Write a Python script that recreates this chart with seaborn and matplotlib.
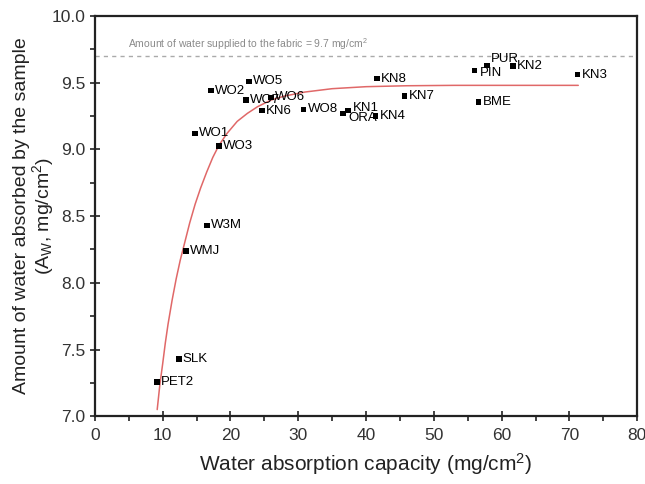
import matplotlib
matplotlib.use("Agg")
import matplotlib.pyplot as plt
import seaborn as sns
import pandas as pd
from matplotlib.ticker import MultipleLocator

# ---- data ----
labels = ["PET2", "SLK", "WMJ", "W3M", "WO1", "WO3", "WO2", "WO5", "WO7", "WO6",
          "KN6", "WO8", "KN1", "ORA", "KN4", "KN8", "KN7", "PIN", "PUR", "KN2",
          "BME", "KN3"]
capacity = [9.14, 12.39, 13.42, 16.52, 14.75, 18.29, 17.1, 22.7, 22.27, 25.96,
            24.63, 30.8, 37.3, 36.6, 41.4, 41.6, 45.7, 56.0, 57.8, 61.65,
            56.6, 71.2]
absorbed = [7.255, 7.43, 8.24, 8.43, 9.12, 9.025, 9.44, 9.51, 9.37, 9.39,
            9.29, 9.30, 9.29, 9.27, 9.25, 9.53, 9.40, 9.59, 9.63, 9.625,
            9.355, 9.56]

# fitted curve
curve_x = [9.2, 9.6, 10.0, 10.4, 10.8, 11.4, 12.0, 12.6, 13.2, 14.0, 14.8, 15.6,
           16.5, 17.4, 18.3, 19.5, 21.0, 22.5, 24.0, 26.0, 28.0, 31.0, 35.0,
           40.0, 46.0, 53.0, 62.0, 71.3]
curve_y = [7.05, 7.24, 7.39, 7.55, 7.69, 7.87, 8.03, 8.17, 8.29, 8.45, 8.59, 8.71,
           8.83, 8.94, 9.03, 9.12, 9.21, 9.27, 9.32, 9.37, 9.40, 9.43, 9.455,
           9.47, 9.477, 9.48, 9.48, 9.48]

supplied = 9.7
x_ticks = [0, 10, 20, 30, 40, 50, 60, 70, 80]
y_ticks = [7.0, 7.5, 8.0, 8.5, 9.0, 9.5, 10.0]

# label offsets in pixels (default: right of marker)
label_offsets = {"PUR": (4, 6), "PIN": (5, -2), "KN1": (5, 2.5), "ORA": (5, -5)}

sns.set_style("ticks")
plt.rcParams["font.family"] = ["Liberation Sans", "DejaVu Sans"]
plt.rcParams["mathtext.default"] = "regular"

fig = plt.figure(figsize=(6.45, 4.84), dpi=100)
ax = fig.add_axes([0.147, 0.140, 0.841, 0.827])

df = pd.DataFrame({"x": capacity, "y": absorbed, "label": labels})
cdf = pd.DataFrame({"x": curve_x, "y": curve_y})

ax.axhline(supplied, color="#aaaaaa", lw=1.0, ls=(0, (3, 3)), zorder=1)
ax.text(4.9, supplied + 0.03, "Amount of water supplied to the fabric = 9.7 mg/cm$^2$",
        color="#8a8a8a", fontsize=7.5, va="bottom", ha="left")

sns.lineplot(data=cdf, x="x", y="y", ax=ax, color="#e06868", lw=1.1, sort=False,
             zorder=2)
sns.scatterplot(data=df, x="x", y="y", ax=ax, marker="s", s=16, color="black",
                edgecolor="none", zorder=3)

for lab, xv, yv in zip(labels, capacity, absorbed):
    dx, dy = label_offsets.get(lab, (4, 0))
    ax.annotate(lab, (xv, yv), xytext=(dx, dy), textcoords="offset pixels",
                ha="left", va="center", fontsize=9.5, color="black", zorder=4)

ax.set_xlim(0, 80)
ax.set_ylim(7.0, 10.0)
ax.set_xticks(x_ticks)
ax.set_yticks(y_ticks)
ax.set_yticklabels([f"{v:.1f}" for v in y_ticks])
ax.xaxis.set_minor_locator(MultipleLocator(5))
ax.yaxis.set_minor_locator(MultipleLocator(0.25))
ax.tick_params(which="major", direction="inout", length=7, width=1.2,
               labelsize=12.5, colors="#222222", labelcolor="#333333")
ax.tick_params(which="minor", direction="out", length=3.5, width=1.2,
               colors="#222222")
ax.tick_params(axis="x", pad=5)
for side in ["left", "right", "top", "bottom"]:
    ax.spines[side].set_visible(True)
    ax.spines[side].set_linewidth(1.6)
    ax.spines[side].set_color("#222222")

ax.set_xlabel("Water absorption capacity (mg/cm$^2$)", fontsize=15, color="#222222",
              labelpad=6)
ax.set_ylabel("Amount of water absorbed by the sample\n(A$_W$, mg/cm$^2$)",
              fontsize=14, color="#222222", linespacing=1.0)
ax.yaxis.set_label_coords(-0.072, 0.5)

fig.savefig("out.png", dpi=100)
